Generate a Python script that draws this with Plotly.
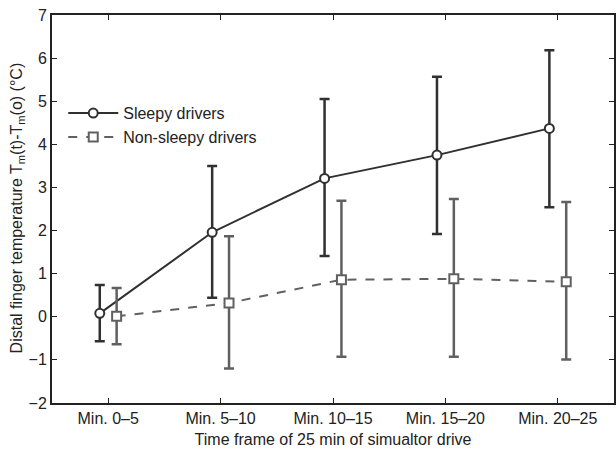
import plotly.graph_objects as go

categories = ["Min. 0–5", "Min. 5–10", "Min. 10–15", "Min. 15–20", "Min. 20–25"]
sleepy_mean = [0.08, 1.96, 3.21, 3.75, 4.37]
sleepy_upper = [0.74, 3.50, 5.05, 5.57, 6.18]
sleepy_lower = [-0.57, 0.44, 1.41, 1.92, 2.54]
nonsleepy_mean = [0.01, 0.32, 0.86, 0.88, 0.81]
nonsleepy_upper = [0.67, 1.87, 2.69, 2.73, 2.66]
nonsleepy_lower = [-0.64, -1.20, -0.93, -0.93, -0.99]
ytick_vals = [-2, -1, 0, 1, 2, 3, 4, 5, 6, 7]
ytick_text = ["\u22122", "\u22121", "0", "1", "2", "3", "4", "5", "6", "7"]

pos = list(range(1, len(categories) + 1))
off = 0.075
xs = [p - off for p in pos]
xn = [p + off for p in pos]

c1 = "#303030"
c2 = "#606060"
font = "Liberation Sans, Arial, sans-serif"

fig = go.Figure()
fig.add_trace(go.Scatter(
    x=xs, y=sleepy_mean, mode="lines+markers", name="Sleepy drivers",
    line=dict(color=c1, width=2),
    marker=dict(symbol="circle", size=9, color="white", line=dict(color=c1, width=2)),
    error_y=dict(type="data", symmetric=False,
                 array=[u - m for u, m in zip(sleepy_upper, sleepy_mean)],
                 arrayminus=[m - l for m, l in zip(sleepy_mean, sleepy_lower)],
                 color=c1, thickness=2.5, width=5),
))
fig.add_trace(go.Scatter(
    x=xn, y=nonsleepy_mean, mode="lines+markers", name="Non-sleepy drivers",
    line=dict(color=c2, width=2, dash="dash"),
    marker=dict(symbol="square", size=9, color="white", line=dict(color=c2, width=2)),
    error_y=dict(type="data", symmetric=False,
                 array=[u - m for u, m in zip(nonsleepy_upper, nonsleepy_mean)],
                 arrayminus=[m - l for m, l in zip(nonsleepy_mean, nonsleepy_lower)],
                 color=c2, thickness=2.5, width=5),
))

fig.update_layout(
    width=616, height=449,
    margin=dict(l=52, r=0, t=15, b=46),
    paper_bgcolor="white", plot_bgcolor="white",
    font=dict(family=font, size=16, color="#222"),
    showlegend=True,
    legend=dict(x=0.02, y=0.716, xanchor="left", yanchor="middle",
                bgcolor="rgba(0,0,0,0)", font=dict(size=16), itemwidth=50,
                tracegroupgap=0),
    xaxis=dict(range=[0.5, 5.5], tickmode="array", tickvals=pos, ticktext=categories,
               ticks="inside", ticklen=5, tickcolor="#222", showline=True, linecolor="#222",
               linewidth=2, mirror="ticks", showgrid=False, zeroline=False,
               tickfont=dict(size=16),
               title=dict(text="Time frame of 25 min of simualtor drive", font=dict(size=16), standoff=8)),
    yaxis=dict(range=[-2, 7], tickmode="array", tickvals=ytick_vals, ticktext=ytick_text,
               ticks="inside", ticklen=5, tickcolor="#222", showline=True, linecolor="#222",
               linewidth=2, mirror="ticks", showgrid=False, zeroline=False,
               tickfont=dict(size=16)),
    annotations=[dict(
        text="Distal finger temperature T<sub>m</sub>(t)-T<sub>m</sub>(o) (°C)",
        xref="paper", yref="paper", x=-0.062, y=0.502, xanchor="center", yanchor="middle",
        textangle=-90, showarrow=False, font=dict(size=16, color="#222"))],
)

fig.write_html("out.html")
